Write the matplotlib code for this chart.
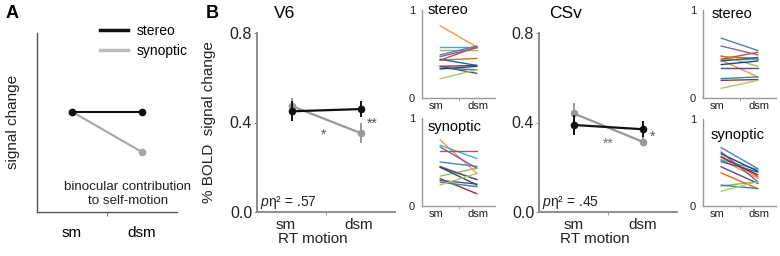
import matplotlib
matplotlib.use("Agg")
import matplotlib.pyplot as plt
from matplotlib.lines import Line2D

plt.rcParams['font.family'] = ['Liberation Sans', 'DejaVu Sans']
plt.rcParams['mathtext.fontset'] = 'custom'
plt.rcParams['mathtext.rm'] = 'Liberation Sans'
plt.rcParams['mathtext.it'] = 'Liberation Sans:italic'

# ---------------- data ----------------
conditions = ["sm", "dsm"]

# Panel A (schematic)
a_stereo = [0.56, 0.56]
a_synoptic = [0.56, 0.335]

# Panel B group means and errors
v6_stereo = [0.45, 0.46]
v6_stereo_err = [0.045, 0.035]
v6_synoptic = [0.474, 0.353]
v6_synoptic_err = [0.035, 0.045]

csv_stereo = [0.389, 0.370]
csv_stereo_err = [0.045, 0.035]
csv_synoptic = [0.441, 0.314]
csv_synoptic_err = [0.045, 0.02]

v6_pes = ".57"
csv_pes = ".45"

# Individual subjects (sm, dsm)
subject_colors = ['#F79646', '#4BACC6', '#9BBB59', '#4F81BD', '#8064A2', '#C0504D',
                  '#E46C0A', '#376092', '#943634', '#5F497A', '#31859C', '#1F497D', '#A9C96B']

v6_stereo_sm = [0.82, 0.58, 0.55, 0.49, 0.47, 0.43, 0.43, 0.44, 0.36, 0.36, 0.34, 0.33, 0.22]
v6_stereo_dsm = [0.58, 0.58, 0.55, 0.59, 0.57, 0.58, 0.45, 0.37, 0.37, 0.28, 0.32, 0.36, 0.32]

v6_syn_sm = [0.75, 0.69, 0.34, 0.50, 0.67, 0.62, 0.45, 0.44, 0.31, 0.29, 0.27, 0.44, 0.24]
v6_syn_dsm = [0.37, 0.54, 0.43, 0.45, 0.43, 0.62, 0.30, 0.30, 0.14, 0.25, 0.22, 0.24, 0.37]

csv_stereo_sm = [0.43, 0.44, 0.48, 0.68, 0.59, 0.44, 0.47, 0.42, 0.20, 0.34, 0.22, 0.38, 0.11]
csv_stereo_dsm = [0.24, 0.44, 0.36, 0.54, 0.49, 0.52, 0.45, 0.46, 0.21, 0.34, 0.24, 0.42, 0.20]

csv_syn_sm = [0.53, 0.53, 0.23, 0.67, 0.62, 0.57, 0.38, 0.51, 0.56, 0.45, 0.24, 0.60, 0.17]
csv_syn_dsm = [0.32, 0.42, 0.28, 0.43, 0.28, 0.34, 0.20, 0.39, 0.36, 0.26, 0.20, 0.40, 0.28]

# ---------------- figure ----------------
W, H = 780, 256
fig = plt.figure(figsize=(W / 100, H / 100), dpi=100)


def ax_px(left, top, right, bottom):
    return fig.add_axes([left / W, 1 - bottom / H, (right - left) / W, (bottom - top) / H])


def fx(x):
    return x / W


def fy(y):
    return 1 - y / H


# ---------- Panel A ----------
axA = ax_px(37, 33, 177, 212)
axA.plot([0, 1], a_synoptic, color='#a6a6a6', lw=1.5, marker='o', ms=4.5,
         mfc='#a6a6a6', mec='#a6a6a6', label='synoptic', zorder=2)
axA.plot([0, 1], a_stereo, color='#111111', lw=1.5, marker='o', ms=4.5, label='stereo', zorder=3)
axA.set_xlim(-0.5, 1.5)
axA.set_ylim(0, 1)
for s in ['top', 'right']:
    axA.spines[s].set_visible(False)
for s in ['left', 'bottom']:
    axA.spines[s].set_color('#555555')
    axA.spines[s].set_linewidth(1.0)
axA.set_yticks([])
axA.set_xticks([0, 1])
axA.set_xticklabels(conditions, fontsize=11)
axA.tick_params(axis='x', length=0, pad=10)
axA.set_xticks([0.5], minor=True)
axA.tick_params(axis='x', which='minor', length=3, color='#555555')
h = [Line2D([], [], color='#111111', lw=2.5), Line2D([], [], color='#bbbbbb', lw=2.5)]
axA.legend(h, ['stereo', 'synoptic'], loc='upper left', bbox_to_anchor=(0.45, 1.05),
           frameon=False, fontsize=10, handlelength=2.0, handletextpad=0.65,
           labelspacing=0.4, borderpad=0, borderaxespad=0)
axA.text(0.65, 0.10, "binocular contribution\nto self-motion", transform=axA.transAxes,
         ha='center', va='center', fontsize=9.6, color='#222222', linespacing=1.15)
fig.text(fx(13), fy(122), "signal change", rotation=90, ha='center', va='center',
         fontsize=11, color='#222222')
fig.text(fx(12), fy(13), "A", fontsize=13, fontweight='bold', ha='center', va='center')


# ---------- Panel B main axes ----------
def main_panel(left, stereo, stereo_err, syn, syn_err, pes, title, title_x, label_pos):
    ax = ax_px(left, 33, left + 138, 212)
    ax.errorbar([0, 1], syn, yerr=syn_err, color='#999999', lw=1.6, marker='o', ms=4.5,
                elinewidth=1.4, capsize=0, zorder=2)
    ax.errorbar([0, 1], stereo, yerr=stereo_err, color='#111111', lw=1.6, marker='o', ms=4.5,
                elinewidth=1.4, capsize=0, zorder=3)
    ax.set_xlim(-0.5, 1.5)
    ax.set_ylim(0, 0.8)
    for s in ['top', 'right']:
        ax.spines[s].set_visible(False)
    for s in ['left', 'bottom']:
        ax.spines[s].set_color('#8c8c8c')
        ax.spines[s].set_linewidth(1.4)
    ax.set_yticks([0.0, 0.4, 0.8])
    ax.set_yticklabels(['0.0', '0.4', '0.8'], fontsize=11.5, color='#222222')
    ax.tick_params(axis='y', length=2, color='#8c8c8c', pad=1.5)
    ax.set_xticks(label_pos)
    ax.set_xticklabels(conditions, fontsize=11, color='#222222')
    ax.tick_params(axis='x', length=0, pad=4)
    ax.set_xticks([0.5], minor=True)
    ax.tick_params(axis='x', which='minor', length=2, color='#8c8c8c')
    ax.text(0.02, 0.055, r'$p$η² = ' + pes, transform=ax.transAxes, fontsize=10,
            ha='left', va='center', color='#222222')
    fig.text(fx(title_x), fy(14), title, fontsize=12.5, ha='center', va='center')
    fig.text(fx(left + 56), fy(239), "RT motion", fontsize=11, ha='center', va='center',
             color='#222222')
    return ax


axV6 = main_panel(257, v6_stereo, v6_stereo_err, v6_synoptic, v6_synoptic_err, v6_pes,
                  "V6", 285, [-0.09, 0.97])
axV6.text(0.457, 0.345, "*", fontsize=10, color='#555555', ha='center', va='center')
axV6.text(1.17, 0.395, "**", fontsize=10, color='#555555', ha='center', va='center')

axCS = main_panel(539, csv_stereo, csv_stereo_err, csv_synoptic, csv_synoptic_err, csv_pes,
                  "CSv", 566, [0, 1])
axCS.text(0.5, 0.305, "**", fontsize=10, color='#777777', ha='center', va='center')
axCS.text(1.15, 0.335, "*", fontsize=10, color='#555555', ha='center', va='center')

fig.text(fx(212), fy(13), "B", fontsize=13, fontweight='bold', ha='center', va='center')
fig.text(fx(209), fy(122), "% BOLD  signal change", rotation=90, ha='center', va='center',
         fontsize=11, color='#222222')


# ---------- small subject panels ----------
def small_panel(left, top, bottom, sm, dsm, label, lx, ly):
    ax = ax_px(left, top, left + 73, bottom)
    for a, b, c in zip(sm, dsm, subject_colors):
        ax.plot([0, 1], [a, b], color=c, lw=1.0)
    ax.set_xlim(-0.5, 1.5)
    ax.set_ylim(0, 1)
    for s in ['top', 'right']:
        ax.spines[s].set_visible(False)
    for s in ['left', 'bottom']:
        ax.spines[s].set_color('#999999')
        ax.spines[s].set_linewidth(1.0)
    ax.set_yticks([0, 1])
    ax.set_yticklabels(['0', '1'], fontsize=8, color='#222222')
    ax.tick_params(axis='y', length=0, pad=5)
    ax.set_xticks([-0.1, 1.03])
    ax.set_xticklabels(conditions, fontsize=8, color='#222222')
    ax.tick_params(axis='x', length=0, pad=2)
    ax.set_xticks([0.5], minor=True)
    ax.tick_params(axis='x', which='minor', length=2, color='#999999')
    ax.text(lx, ly, label, transform=ax.transAxes, fontsize=10.5, ha='left', va='center')
    return ax


small_panel(422, 10, 98, v6_stereo_sm, v6_stereo_dsm, "stereo", 0.08, 1.0)
small_panel(422, 118, 206, v6_syn_sm, v6_syn_dsm, "synoptic", 0.08, 0.9)
small_panel(703, 10, 98, csv_stereo_sm, csv_stereo_dsm, "stereo", 0.12, 0.96)
small_panel(703, 119, 206, csv_syn_sm, csv_syn_dsm, "synoptic", 0.1, 0.82)

fig.savefig("out.png", dpi=100)
